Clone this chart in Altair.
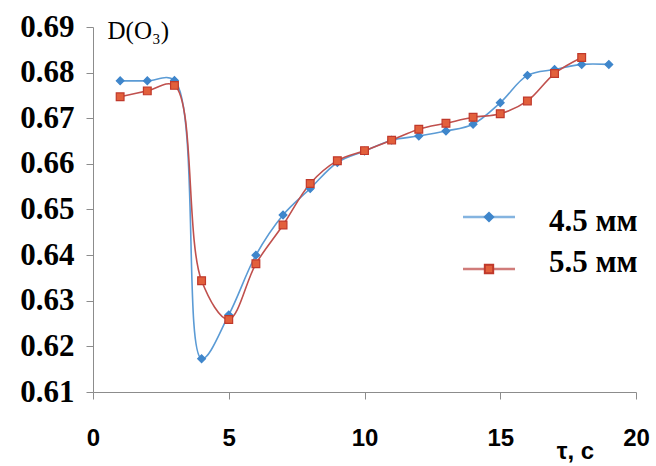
import altair as alt
import pandas as pd

# Data
t = list(range(1, 20))
d_45 = [0.6782, 0.6782, 0.6783, 0.6173, 0.6269, 0.6400, 0.6488, 0.6546, 0.6603,
        0.6628, 0.6652, 0.6661, 0.6672, 0.6687, 0.6734, 0.6794, 0.6807, 0.6818, 0.6818]
t_55 = list(range(1, 19))
d_55 = [0.6747, 0.6760, 0.6772, 0.6344, 0.6259, 0.6381, 0.6466, 0.6557, 0.6607,
        0.6629, 0.6652, 0.6676, 0.6689, 0.6702, 0.6710, 0.6738, 0.6798, 0.6833]
series = ["4.5 мм", "5.5 мм"]
x_ticks = [0, 5, 10, 15, 20]
y_ticks = [0.61, 0.62, 0.63, 0.64, 0.65, 0.66, 0.67, 0.68, 0.69]

df = pd.concat([
    pd.DataFrame({"t": t, "D": d_45, "s": series[0]}),
    pd.DataFrame({"t": t_55, "D": d_55, "s": series[1]}),
])

line_colors = ["#5B9BD5", "#C0504D"]
marker_fill = ["#3F86CB", "#E2603C"]
marker_stroke = ["#3F86CB", "#C0392B"]
shapes = ["diamond", "square"]

W, H = 543, 365

x_enc = alt.X("t:Q", scale=alt.Scale(domain=[0, 20], nice=False),
              axis=alt.Axis(values=x_ticks, format="d", grid=False,
                            title="τ, c", titleX=482, titleY=47,
                            titleAlign="center", titleBaseline="top",
                            titleFont="Liberation Sans", titleFontSize=24,
                            titleFontWeight="bold", titleColor="black",
                            labelFont="Liberation Sans", labelFontSize=24,
                            labelFontWeight="bold", labelColor="black",
                            labelPadding=27, tickSize=7,
                            domainColor="#8c8c8c", tickColor="#8c8c8c",
                            labelFlush=False))
y_enc = alt.Y("D:Q", scale=alt.Scale(domain=[0.61, 0.69], nice=False, zero=False),
              axis=alt.Axis(values=y_ticks, format=".2f", grid=False,
                            title="D(O₃)", titleAngle=0, titleX=14, titleY=3,
                            titleAlign="left", titleBaseline="middle",
                            titleFont="Liberation Serif", titleFontSize=25,
                            titleFontWeight="normal", titleColor="black",
                            labelFont="Liberation Serif", labelFontSize=31,
                            labelFontWeight="bold", labelColor="black",
                            labelPadding=12, tickSize=7,
                            domainColor="#8c8c8c", tickColor="#8c8c8c"))

lines = alt.Chart(df).mark_line(interpolate="catmull-rom", strokeWidth=1.6).encode(
    x=x_enc, y=y_enc,
    color=alt.Color("s:N", scale=alt.Scale(domain=series, range=line_colors), legend=None),
    detail="s:N",
)

points = alt.Chart(df).mark_point(filled=True, size=60, strokeWidth=1.2, opacity=1).encode(
    x="t:Q", y="D:Q",
    fill=alt.Fill("s:N", scale=alt.Scale(domain=series, range=marker_fill), legend=None),
    stroke=alt.Stroke("s:N", scale=alt.Scale(domain=series, range=marker_stroke), legend=None),
    shape=alt.Shape("s:N", scale=alt.Scale(domain=series, range=shapes), legend=None),
)

# manual legend (layout only)
legend_layers = []
leg_rows = [(190, 195), (242, 236)]
for i, lab in enumerate(series):
    ly, ty = leg_rows[i]
    ldf = pd.DataFrame({"label": [lab]})
    base = alt.Chart(ldf)
    legend_layers.append(base.mark_rule(color=line_colors[i], strokeWidth=2.5, opacity=0.75).encode(
        x=alt.value(370), x2=alt.value(422), y=alt.value(ly)))
    legend_layers.append(base.mark_point(filled=True, size=70, shape=shapes[i],
                                         fill=marker_fill[i], stroke=marker_stroke[i],
                                         opacity=1).encode(
        x=alt.value(396), y=alt.value(ly)))
    legend_layers.append(base.mark_text(align="left", baseline="middle",
                                        font="Liberation Serif", fontSize=31,
                                        fontWeight="bold", color="black").encode(
        x=alt.value(456), y=alt.value(ty), text="label:N"))

chart = alt.layer(lines, points, *legend_layers).properties(
    width=W, height=H,
    autosize=alt.AutoSizeParams(type="none"),
    padding={"left": 93, "top": 27, "right": 20, "bottom": 74},
    background="white",
).configure_view(stroke=None)

chart.save("out.html", embed_options={"renderer": "svg", "actions": False})
